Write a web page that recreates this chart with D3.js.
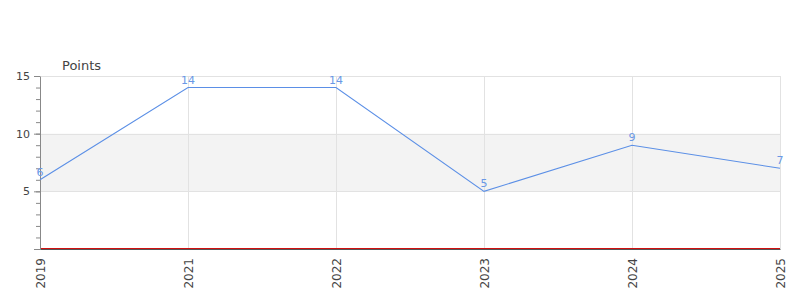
<!DOCTYPE html>
<html>
<head>
<meta charset="utf-8">
<script src="https://cdn.jsdelivr.net/npm/d3@7"></script>
<style>
  body { margin: 0; background: #fff; }
  svg text { font-family: "DejaVu Sans", sans-serif; }
</style>
</head>
<body>
<svg id="chart" width="800" height="300"></svg>
<script>
// chart data
const years = ["2019", "2021", "2022", "2023", "2024", "2025"];
const points = [6, 14, 14, 5, 9, 7];
const majorTicks = [5, 10, 15];
const bandRange = [5, 10];

const margin = { top: 76, right: 20, bottom: 51, left: 40 };
const width = 800 - margin.left - margin.right;
const height = 300 - margin.top - margin.bottom;

const svg = d3.select("#chart");
const g = svg.append("g").attr("transform", `translate(${margin.left},${margin.top})`);

const x = d3.scalePoint().domain(years).range([0, width]);
const y = d3.scaleLinear().domain([0, 15]).range([height, 0]);

// shaded band
g.append("rect")
  .attr("x", 0).attr("width", width)
  .attr("y", y(bandRange[1])).attr("height", y(bandRange[0]) - y(bandRange[1]))
  .attr("fill", "#f3f3f3");

// grid lines
g.selectAll("line.hgrid").data(majorTicks).enter().append("line")
  .attr("class", "hgrid")
  .attr("x1", 0).attr("x2", width)
  .attr("y1", d => Math.round(y(d)) + 0.5).attr("y2", d => Math.round(y(d)) + 0.5)
  .attr("stroke", "#e2e2e2");
g.selectAll("line.vgrid").data(years.slice(1)).enter().append("line")
  .attr("class", "vgrid")
  .attr("x1", d => Math.round(x(d)) + 0.5).attr("x2", d => Math.round(x(d)) + 0.5)
  .attr("y1", 0).attr("y2", height)
  .attr("stroke", "#e2e2e2");

// minor y ticks
const minor = g.append("g")
  .call(d3.axisLeft(y).tickValues(d3.range(1, 16)).tickSize(4).tickFormat(""));
minor.select(".domain").remove();
minor.selectAll("line").attr("stroke", "#888");

// major y axis
const yAxis = g.append("g")
  .call(d3.axisLeft(y).tickValues([0].concat(majorTicks)).tickSize(6).tickPadding(4)
    .tickSizeOuter(0).tickFormat(d => d === 0 ? "" : d));
yAxis.select(".domain").attr("stroke", "#888");
yAxis.selectAll("line").attr("stroke", "#888");
yAxis.selectAll("text").attr("fill", "#444").style("font-size", "11px");

// zero line
g.append("line")
  .attr("x1", 1).attr("x2", width)
  .attr("y1", Math.round(y(0)) - 0.5).attr("y2", Math.round(y(0)) - 0.5)
  .attr("stroke", "#d01010");

// x axis
const xAxis = g.append("g")
  .attr("transform", `translate(0,${height})`)
  .call(d3.axisBottom(x).tickSize(0).tickPadding(7));
xAxis.select(".domain").attr("stroke", "#555");
xAxis.selectAll("text")
  .attr("fill", "#444")
  .style("font-size", "12px")
  .attr("transform", "rotate(-90)")
  .attr("text-anchor", "end")
  .attr("x", -9).attr("y", 0).attr("dy", "0.35em");

// line
const line = d3.line().x((d, i) => x(years[i])).y(d => y(d));
g.append("path")
  .datum(points)
  .attr("d", line)
  .attr("fill", "none")
  .attr("stroke", "#5b8fe6")
  .attr("stroke-width", 1.1);

// value labels
g.selectAll("text.val").data(points).enter().append("text")
  .attr("class", "val")
  .attr("x", (d, i) => x(years[i]))
  .attr("y", d => y(d) - 4)
  .attr("text-anchor", "middle")
  .attr("fill", "#6a98e6")
  .style("font-size", "11px")
  .text(d => d);

// axis title
svg.append("text")
  .attr("x", 62).attr("y", 70)
  .attr("fill", "#444")
  .style("font-size", "13px")
  .text("Points");
</script>
</body>
</html>
